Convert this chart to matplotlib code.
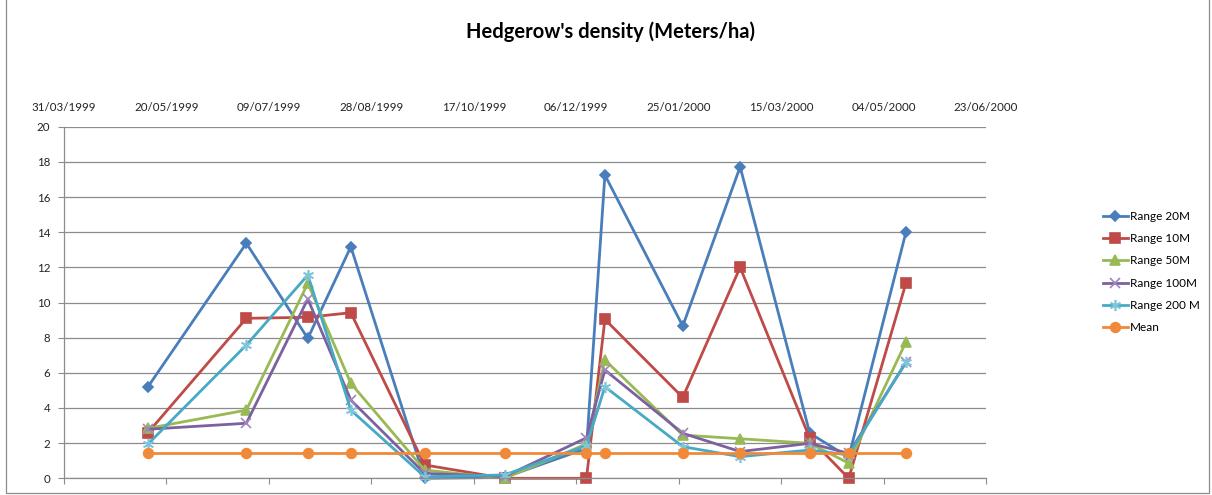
import matplotlib
matplotlib.use("Agg")
import matplotlib.pyplot as plt
from matplotlib.patches import Rectangle
import numpy as np
import datetime as dt

dates = ["1999-05-11", "1999-06-28", "1999-07-28", "1999-08-18", "1999-09-23",
         "1999-11-01", "1999-12-11", "1999-12-20", "2000-01-27", "2000-02-24",
         "2000-03-29", "2000-04-17", "2000-05-15"]
range_20m = [5.21, 13.37, 7.96, 13.17, 0.0, 0.05, 1.7, 17.25, 8.66, 17.72, 2.56, 1.2, 14.03]
range_10m = [2.6, 9.1, 9.16, 9.42, 0.76, 0.0, 0.0, 9.04, 4.6, 12.0, 2.27, 0.0, 11.13]
range_50m = [2.84, 3.88, 11.09, 5.4, 0.47, 0.0, 1.95, 6.73, 2.46, 2.25, 1.99, 0.86, 7.77]
range_100m = [2.79, 3.13, 10.2, 4.45, 0.28, 0.1, 2.3, 6.16, 2.56, 1.52, 1.99, 1.42, 6.6]
range_200m = [1.95, 7.58, 11.56, 3.88, 0.09, 0.19, 1.85, 5.21, 1.8, 1.23, 1.61, 1.33, 6.63]
mean = [1.42] * 13
tick_dates = ["1999-03-31", "1999-05-20", "1999-07-09", "1999-08-28", "1999-10-17",
              "1999-12-06", "2000-01-25", "2000-03-15", "2000-05-04", "2000-06-23"]
title = "Hedgerow's density (Meters/ha)"

plt.rcParams['font.family'] = ['Lato', 'DejaVu Sans']

x = [dt.datetime.strptime(d, "%Y-%m-%d") for d in dates]
tx = [dt.datetime.strptime(d, "%Y-%m-%d") for d in tick_dates]

fig = plt.figure(figsize=(12.12, 4.95), dpi=100)
ax = fig.add_axes([64/1212, 1-478.3/495, (986-64)/1212, (478.3-126.7)/495])

series = [
    ("Range 20M", range_20m, "#4A7EBB", "D", 5, None),
    ("Range 10M", range_10m, "#BE4B48", "s", 7, None),
    ("Range 50M", range_50m, "#98B954", "^", 7, None),
    ("Range 100M", range_100m, "#7D60A0", "x", 7, "#9E86C0"),
    ("Range 200 M", range_200m, "#46AAC5", (6, 2, 0), 8, "#7FC6DA"),
    ("Mean", mean, "#F08A3A", "o", 7, None),
]
for name, vals, col, mk, ms, mec in series:
    ax.plot(x, vals, color=col, lw=2.0, marker=mk, markersize=ms,
            markerfacecolor=col, markeredgecolor=mec if mec else col,
            markeredgewidth=1.2, label=name, clip_on=False)

ax.set_xlim(tx[0], tx[-1])
ax.set_ylim(0, 20)
ax.set_yticks(np.arange(0, 21, 2))
ax.grid(axis='y', color='#8C8C8C', lw=0.9)
ax.set_axisbelow(True)
for s in ['top', 'right']:
    ax.spines[s].set_visible(False)
for s in ['left', 'bottom']:
    ax.spines[s].set_color('#8C8C8C')
    ax.spines[s].set_linewidth(0.9)
ax.set_xticks(tx)
ax.tick_params(axis='x', which='both', labelbottom=False, length=4, color='#8C8C8C', direction='out')
ax.tick_params(axis='y', length=4, color='#8C8C8C', labelsize=8.3, pad=6, labelcolor='#222222')

sec = ax.secondary_xaxis('top')
sec.set_xticks(tx)
sec.set_xticklabels([d.strftime("%d/%m/%Y") for d in tx])
sec.spines['top'].set_visible(False)
sec.tick_params(length=0, labelsize=8.3, pad=10, labelcolor='#222222')

fig.text(610/1212, 1-32/495, title, ha='center', va='center', fontsize=14.5,
         fontweight='bold', color='black')

leg = ax.legend(loc='upper left', bbox_to_anchor=(1103/1212, 1-211/495),
                bbox_transform=fig.transFigure, frameon=False, fontsize=8.5,
                handlelength=2.1, handletextpad=0.2, labelspacing=0.95,
                borderpad=0, borderaxespad=0)

fig.add_artist(Rectangle((6/1212, 2/495), 1203/1212, 1.1, transform=fig.transFigure,
                         fill=False, edgecolor='#8C8C8C', lw=0.9))

fig.savefig("out.png", dpi=100)
